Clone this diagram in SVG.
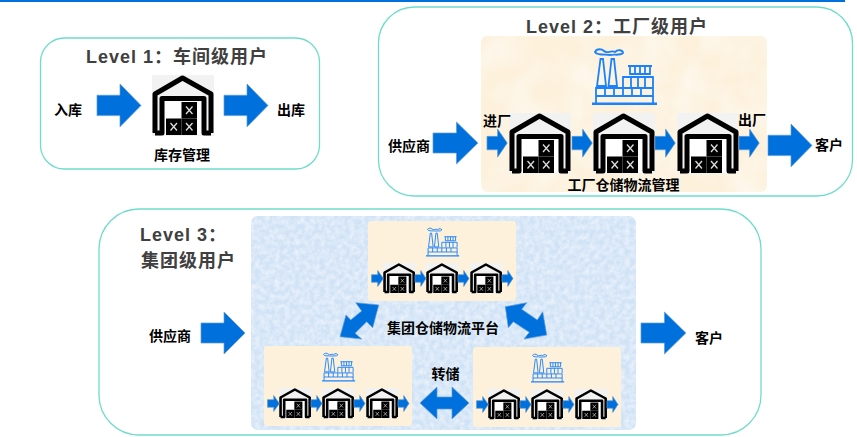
<svg xmlns="http://www.w3.org/2000/svg" xmlns:xlink="http://www.w3.org/1999/xlink" width="857" height="437" viewBox="0 0 857 437">
<style>
.frame{fill:#fff;stroke:#6fdccb;stroke-width:1.3}
.title{font:bold 18px "Liberation Sans","Noto Sans CJK SC",sans-serif;fill:#404040;letter-spacing:1px}
.lab{font:bold 14px "Noto Sans CJK SC","Liberation Sans",sans-serif;fill:#000;text-anchor:middle;dominant-baseline:central}
.ar{fill:#0070dc;stroke:#5b9bd5;stroke-width:.7}
.f{fill:none;stroke:#1a82ff;stroke-width:1.8}
.cream{fill:#fdf1db}
</style>
<defs>
<filter id="mott" x="0" y="0" width="100%" height="100%">
<feTurbulence type="fractalNoise" baseFrequency="0.03" numOctaves="3" seed="4" result="n"/>
<feColorMatrix in="n" type="matrix" values="0 0 0 0 1 0 0 0 0 1 0 0 0 0 1 0 0 0 .8 -0.25" result="w"/>
<feComposite in="w" in2="SourceGraphic" operator="in" result="c"/>
<feMerge><feMergeNode in="SourceGraphic"/><feMergeNode in="c"/></feMerge>
</filter>
<filter id="mottb" x="0" y="0" width="100%" height="100%">
<feTurbulence type="fractalNoise" baseFrequency="0.2" numOctaves="3" seed="7" result="n"/>
<feColorMatrix in="n" type="matrix" values="0 0 0 0 1 0 0 0 0 1 0 0 0 0 1 0 0 0 .9 -0.25" result="w"/>
<feComposite in="w" in2="SourceGraphic" operator="in" result="c"/>
<feMerge><feMergeNode in="SourceGraphic"/><feMergeNode in="c"/></feMerge>
</filter>
<polygon id="arrow" class="ar" points="0,11 23,11 23,0 44,21 23,42 23,31 0,31" vector-effect="non-scaling-stroke"/>
<g id="box"><rect width="15.500" height="16.500" fill="#000"/><path d="M4.500,4.500 L11,12 M11,4.500 L4.500,12" stroke="#dcdcdc" stroke-width="1.300"/></g>
<g id="wh">
<rect width="62" height="61" fill="#f2f2f2"/>
<rect x="9" y="23" width="44" height="37" fill="#fff"/>
<path d="M3,58 V19 L30.500,3 L59,19 V58" fill="none" stroke="#000" stroke-width="5" stroke-linejoin="round"/>
<path d="M3,58 H10 V23.500 H52 V58 H59" fill="none" stroke="#000" stroke-width="5" stroke-linejoin="round"/>
<use xlink:href="#box" x="29.500" y="27"/>
<use xlink:href="#box" x="14" y="43.500"/>
<use xlink:href="#box" x="29.500" y="43.500"/>
</g>
<g id="factory">
<path class="f" d="M3,5 C5,1 10,2 12,4 C15,7 19,3 23,5 C26,2 31,3 31,6 C28,9 22,7 19,8 C14,7 5,9 3,5 Z"/>
<path class="f" d="M8.500,12 H11 L14,39 H5 Z M19.500,12 H22 L25,39 H16.500 Z"/>
<path class="f" d="M36,19 H60 M38,19 V27 H58 V19 M43,19 V27 M48,19 V27 M53,19 V27"/>
<path class="f" d="M31,40 V30 H61 V40 M39,30 V40 M46,30 V40 M53,30 V40"/>
<path class="f" d="M4,49 V41 H61 V49 H4 M13,41 V49 M22,41 V49 M31,41 V49 M40,41 V49 M49,41 V49"/>
<path class="f" d="M4,49 V56 M61,49 V56"/>
<path d="M0,58 H65 V55.500 H0 Z" fill="#1a82ff"/>
</g>
<g id="plant">
<rect class="cream" width="148" height="80" rx="3"/>
<use xlink:href="#factory" transform="translate(58,6) scale(.51)"/>
<use xlink:href="#wh" transform="translate(15,42) scale(.52,.5)"/>
<use xlink:href="#wh" transform="translate(58,42) scale(.52,.5)"/>
<use xlink:href="#wh" transform="translate(102,42) scale(.52,.5)"/>
<use xlink:href="#arrow" transform="translate(3.500,49.500) scale(.27,.38)"/>
<use xlink:href="#arrow" transform="translate(47,49.500) scale(.25,.38)"/>
<use xlink:href="#arrow" transform="translate(90,49.500) scale(.25,.38)"/>
<use xlink:href="#arrow" transform="translate(134,49.500) scale(.25,.38)"/>
</g>
</defs>
<rect width="845" height="2" fill="#0070dc"/>
<g id="level1">
<rect class="frame" x="40.500" y="38" width="279" height="131" rx="24"/>
<text class="title" x="86" y="63">Level 1：车间级用户</text>
<use xlink:href="#wh" x="152" y="75"/>
<text class="lab" x="68" y="109">入库</text>
<text class="lab" x="291" y="109">出库</text>
<text class="lab" x="182" y="154">库存管理</text>
</g>
<g id="level2">
<rect class="frame" x="378.500" y="7" width="474" height="189" rx="36"/>
<rect class="cream" x="481" y="36" width="286" height="156" rx="6" filter="url(#mott)"/>
<text class="title" x="526" y="33">Level 2：工厂级用户</text>
<use xlink:href="#factory" x="592" y="47"/>
<use xlink:href="#wh" x="509" y="113"/>
<use xlink:href="#wh" x="593" y="113"/>
<use xlink:href="#wh" x="677" y="113"/>
<text class="lab" x="409" y="145">供应商</text>
<text class="lab" x="497" y="120">进厂</text>
<text class="lab" x="752" y="119">出厂</text>
<text class="lab" x="829" y="144">客户</text>
<text class="lab" x="623.500" y="184">工厂仓储物流管理</text>
</g>
<g id="level3">
<rect class="frame" x="99" y="209" width="662" height="226" rx="40"/>
<rect x="251" y="216" width="385" height="214" rx="7" fill="#cfe2f6" filter="url(#mottb)"/>
<text class="title" x="140" y="241">Level 3：</text>
<text class="title" x="141" y="267">集团级用户</text>
<text class="lab" x="170" y="335">供应商</text>
<text class="lab" x="443" y="327">集团仓储物流平台</text>
<text class="lab" x="445.500" y="373">转储</text>
<text class="lab" x="709" y="337">客户</text>
</g>
<use id="plant-top" xlink:href="#plant" x="368" y="221"/>
<use id="plant-left" xlink:href="#plant" x="264" y="346"/>
<use id="plant-right" xlink:href="#plant" x="473" y="347"/>
<g id="connectors">
<use xlink:href="#arrow" transform="translate(97,84) scale(1,1.02)"/>
<use xlink:href="#arrow" transform="translate(224,84) scale(1,1.02)"/>
<use xlink:href="#arrow" transform="translate(433,122) scale(1.02,1)"/>
<use xlink:href="#arrow" transform="translate(768,124) scale(1,1.02)"/>
<use xlink:href="#arrow" transform="translate(487,129) scale(.46,.67)"/>
<use xlink:href="#arrow" transform="translate(572,129) scale(.46,.67)"/>
<use xlink:href="#arrow" transform="translate(655,129) scale(.46,.67)"/>
<use xlink:href="#arrow" transform="translate(739,129) scale(.46,.67)"/>
<use xlink:href="#arrow" transform="translate(201,312) scale(1,1)"/>
<use xlink:href="#arrow" transform="translate(641,312) scale(1.02,1)"/>
<polygon class="ar" points="340,336.700 346,315 350.700,320 361.700,311 355.700,302.700 378.700,305 372.700,327.700 366.700,321.700 355,333.300 361.700,339"/>
<polygon class="ar" points="505.300,306.700 526.700,302.700 521.700,309.300 537.300,320 542.700,311.700 546.700,335 524,339 529.300,332.300 513.300,321.700 508.300,327.700"/>
<polygon class="ar" points="420,403 437,387 437,397 452,397 452,387 469,403 452,419 452,409 437,409 437,419"/>
</g>
</svg>
